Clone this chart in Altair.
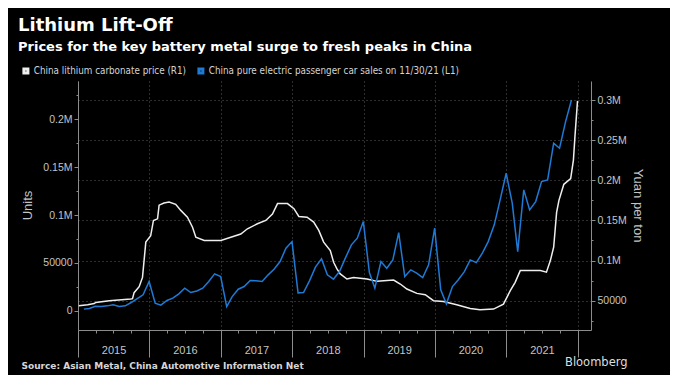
import calendar
import altair as alt
import pandas as pd

# ---------------- data ----------------
ev_years = [2015, 2016, 2017, 2018, 2019, 2020, 2021]
ev_sales = [
    1800, 2400, 4800, 4500, 5200, 6300, 4500, 5200, 8700, 12800, 16700, 30600,
    8000, 5900, 10800, 13200, 17700, 23700, 19100, 20800, 23700, 30600, 38600, 35800,
    4500, 14900, 22600, 25400, 31600, 31300, 30600, 37600, 43500, 51500, 65400, 72300,
    18800, 19100, 31600, 45600, 54300, 37600, 33100, 41000, 55000, 68900, 75900, 93200,
    40000, 23700, 51500, 44500, 53200, 81700, 35800, 42800, 39300, 34800, 48000, 86300,
    21900, 7300, 25400, 32400, 41000, 53200, 50400, 60200, 72300, 89800, 115900, 143700,
    112400, 61900, 126300, 105400, 114100, 135000, 136700, 175000, 169800, 197600, 220200,
]

li_dates = [
    "2015-01-05", "2015-02-19", "2015-03-25", "2015-04-02", "2015-06-10", "2015-09-28",
    "2015-10-07", "2015-10-15", "2015-11-10", "2015-11-27", "2015-12-14", "2016-01-08",
    "2016-01-22", "2016-02-12", "2016-02-20", "2016-03-16", "2016-04-11", "2016-05-15",
    "2016-06-10", "2016-07-14", "2016-08-09", "2016-08-26", "2016-10-08", "2017-01-01",
    "2017-02-21", "2017-04-13", "2017-05-17", "2017-07-07", "2017-08-19", "2017-09-22",
    "2017-10-18", "2017-12-08", "2018-01-10", "2018-02-04", "2018-03-18", "2018-04-21",
    "2018-05-17", "2018-06-11", "2018-07-15", "2018-08-01", "2018-08-18", "2018-09-04",
    "2018-10-08", "2018-11-11", "2019-01-19", "2019-03-11", "2019-06-04", "2019-07-08",
    "2019-08-11", "2019-10-01", "2019-11-13", "2019-12-25", "2020-02-14", "2020-04-22",
    "2020-06-30", "2020-08-19", "2020-10-27", "2020-12-17", "2021-01-21", "2021-02-15",
    "2021-03-13", "2021-06-24", "2021-07-25", "2021-08-14", "2021-08-31", "2021-09-15",
    "2021-09-27", "2021-10-22", "2021-11-26", "2021-12-10", "2021-12-18", "2021-12-31",
]
li_price = [
    43750, 45000, 46500, 47900, 50000, 52000,
    52500, 60000, 67500, 79000, 123000, 131000,
    150000, 152000, 169000, 171600, 173000, 170000,
    162500, 154000, 141600, 129000, 125000, 125000,
    129000, 133000, 139600, 145800, 150000, 158000,
    171000, 171000, 164600, 155000, 154000, 148000,
    137500, 123000, 112500, 97900, 89600, 83300,
    77000, 79000, 77000, 74100, 75800, 70800,
    64600, 59100, 57500, 50000, 49100, 45000,
    40400, 38750, 39600, 45800, 62500, 72900,
    87500, 87500, 85500, 100000, 116600, 160000,
    175000, 195000, 202000, 225000, 255000, 299000,
]

series_names = [
    "China lithium carbonate price (R1)",
    "China pure electric passenger car sales on 11/30/21 (L1)",
]
series_colors = ["#eeeeee", "#1f7ad6"]

left_ticks = list(range(0, 225001, 25000))
right_ticks = list(range(25000, 300001, 25000))

title_text = "Lithium Lift-Off"
subtitle_text = "Prices for the key battery metal surge to fresh peaks in China"
source_text = "Source: Asian Metal, China Automotive Information Net"
brand_text = "Bloomberg"

# ---------------- tables ----------------
ev_dates = []
for y in ev_years:
    for m in range(1, 13):
        if y == 2021 and m == 12:
            break
        d = calendar.monthrange(y, m)[1]
        ev_dates.append(f"{y}-{m:02d}-{d:02d}T00:00:00")
ev_df = pd.DataFrame({"date": ev_dates, "value": ev_sales, "series": series_names[1]})
li_df = pd.DataFrame({"date": [d + "T00:00:00" for d in li_dates], "value": li_price,
                      "series": series_names[0]})

# ---------------- styling ----------------
LABEL_FONT = "Liberation Sans"
LABEL_COLOR = "#c4c4c4"
AXIS_COLOR = "#8c8c8c"
GRID_COLOR = "#5a5a5a"

x_ticks = [alt.DateTime(year=y, month=m, date=1) for y in range(2015, 2022) for m in (1, 4, 7, 10)]
x_ticks.append(alt.DateTime(year=2022, month=1, date=1))

is_year = "month(datum.value) == 0"
x_axis = alt.Axis(
    values=x_ticks,
    title=source_text,
    titleX=-57, titleY=38, titleAlign="left", titleAnchor="start", titleBaseline="alphabetic",
    titleFont="DejaVu Sans", titleFontSize=9, titleFontWeight="bold", titleColor="#d6d6d6",
    tickSize={"condition": {"test": is_year, "value": 27}, "value": 3},
    tickColor=AXIS_COLOR, domainColor=AXIS_COLOR,
    labelExpr="month(datum.value) == 0 && year(datum.value) < 2022 ? timeFormat(datum.value, '%Y') : ''",
    labelOffset=35.6, labelPadding=-13, labelFlush=False, labelOverlap=False, labelBound=False,
    labelFont=LABEL_FONT, labelFontSize=11, labelColor=LABEL_COLOR, labelBaseline="top",
    grid=True, gridColor=GRID_COLOR, gridDash=[1, 3],
    gridOpacity={"condition": {"test": is_year, "value": 1}, "value": 0},
)

lab_expr = ("datum.value % 50000 == 0 ? (datum.value >= 100000 ? (datum.value / 1000000) + 'M' "
            ": '' + datum.value) : ''")
major = "datum.value % 50000 == 0"

y_left = alt.Axis(
    orient="left", values=left_ticks, labelExpr=lab_expr,
    tickSize={"condition": {"test": major, "value": 4}, "value": 2},
    labelPadding=2, labelFont=LABEL_FONT, labelFontSize=10.5, labelColor=LABEL_COLOR,
    tickColor=AXIS_COLOR, domainColor=AXIS_COLOR, grid=False,
    title="Units", titleX=-51, titleY=124, titleAngle=270, titleAlign="center",
    titleBaseline="middle", titleFont=LABEL_FONT, titleFontSize=13, titleFontWeight="normal",
    titleColor=LABEL_COLOR,
)
y_right = alt.Axis(
    orient="right", values=right_ticks, labelExpr=lab_expr,
    tickSize={"condition": {"test": major, "value": 4}, "value": 2},
    labelPadding=2, labelFont=LABEL_FONT, labelFontSize=10.5, labelColor=LABEL_COLOR,
    tickColor=AXIS_COLOR, domainColor=AXIS_COLOR,
    grid=True, gridColor=GRID_COLOR, gridDash=[1, 3],
    gridOpacity={"condition": {"test": major, "value": 1}, "value": 0},
    title="Yuan per ton", titleX=46, titleY=124, titleAngle=90, titleAlign="center",
    titleBaseline="middle", titleFont=LABEL_FONT, titleFontSize=13, titleFontWeight="normal",
    titleColor=LABEL_COLOR,
)

x_scale = alt.Scale(domain=[alt.DateTime(year=2015, month=1, date=1),
                            alt.DateTime(year=2022, month=3, date=10)])
color_scale = alt.Scale(domain=series_names, range=series_colors)
legend = alt.Legend(
    orient="none", legendX=-57, legendY=-15, direction="horizontal", title=None,
    symbolType="square", symbolSize=16, symbolStrokeWidth=3, symbolOffset=0,
    labelFont="Liberation Sans Narrow, DejaVu Sans Condensed, Liberation Sans", labelFontSize=9.8,
    labelColor="#d4d4d4", labelLimit=500, columnPadding=5, labelOffset=3,
)

li_line = alt.Chart(li_df).mark_line(strokeWidth=1.5).encode(
    x=alt.X("date:T", scale=x_scale, axis=x_axis),
    y=alt.Y("value:Q", scale=alt.Scale(domain=[13500, 323700], nice=False, zero=False), axis=y_right),
    color=alt.Color("series:N", scale=color_scale, legend=legend),
)
ev_line = alt.Chart(ev_df).mark_line(strokeWidth=1.5).encode(
    x=alt.X("date:T", scale=x_scale, axis=x_axis),
    y=alt.Y("value:Q", scale=alt.Scale(domain=[-20000, 240000], nice=False, zero=False), axis=y_left),
    color=alt.Color("series:N", scale=color_scale, legend=legend),
)
brand = alt.Chart(alt.Data(values=[{"t": brand_text}])).mark_text(
    align="left", baseline="middle", font="DejaVu Sans", fontSize=11.5, color="#dedede"
).encode(text="t:N", x=alt.value(487), y=alt.value(282))

chart = alt.layer(li_line, ev_line, brand).resolve_scale(y="independent").properties(
    width=513, height=249,
    autosize=alt.AutoSizeParams(type="none"),
    padding={"left": 70, "top": 73, "right": 79, "bottom": 45},
    background="#000000",
    title=alt.Title(
        title_text, subtitle=subtitle_text, anchor="start", frame="group", dx=-60,
        font="DejaVu Sans", fontSize=18, fontWeight="bold", color="#ffffff",
        subtitleFont="DejaVu Sans", subtitleFontSize=13, subtitleFontWeight="bold",
        subtitleColor="#ffffff", subtitlePadding=6, offset=12,
    ),
    usermeta={"embedOptions": {"defaultStyle":
        "html,body{background:linear-gradient(#1e1e1e 0px,#1e1e1e 9px,#000 9px,#000 100%);}"}},
).configure_view(stroke=None)

chart.save("out.html", embed_options={"renderer": "svg", "actions": False})
